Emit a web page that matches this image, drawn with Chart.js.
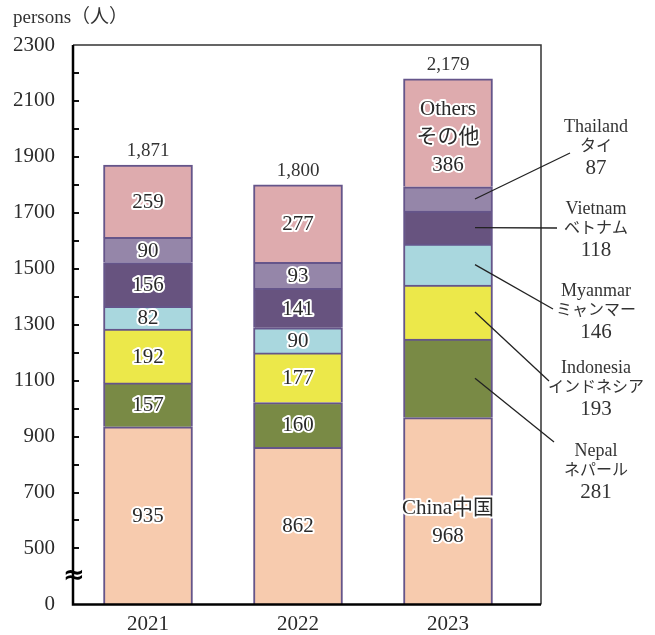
<!DOCTYPE html>
<html><head><meta charset="utf-8">
<script src="https://cdn.jsdelivr.net/npm/chart.js@4"></script>
<style>html,body{margin:0;padding:0;background:#fff}#wrap{width:655px;height:635px;position:relative}</style>
</head><body><div id="wrap"><canvas id="c" width="655" height="635"></canvas></div>
<script>
// ---- data ----
const years = ['2021', '2022', '2023'];
const china     = [935, 862, 968];
const nepal     = [157, 160, 281];
const indonesia = [192, 177, 193];
const myanmar   = [82, 90, 146];
const vietnam   = [156, 141, 118];
const thailand  = [90, 93, 87];
const others    = [259, 277, 386];
const totals    = [1871, 1800, 2179];
const namesEn = ['China', 'Nepal', 'Indonesia', 'Myanmar', 'Vietnam', 'Thailand', 'Others'];
const namesJa = ['中国', 'ネパール', 'インドネシア', 'ミャンマー', 'ベトナム', 'タイ', 'その他'];
const yAxisTitle = 'persons（人）';
const axisFloor = 300;      // value drawn at the "0" position (broken axis)
const axisBreakAt = 400;    // where the ≈ break sign sits

const seriesValues = [china, nepal, indonesia, myanmar, vietnam, thailand, others];
const colors = ['#F7CBAE', '#798A45', '#ECE84A', '#A9D7DE', '#67537F', '#9586A9', '#DEABAE'];

const FONT = "'Liberation Serif','Noto Sans CJK JP',serif";
const TXT = '#2a2a2a';

function haloText(ctx, s, x, y) {
  ctx.lineJoin = 'round';
  ctx.strokeStyle = '#fff';
  ctx.lineWidth = 4;
  ctx.strokeText(s, x, y);
  ctx.fillStyle = TXT;
  ctx.fillText(s, x, y);
}

// callout layout for the 2023 bar (label centre offsets from right edge of plot; leader-line ends)
const callouts = {
  5: {dx: 55, y: 127, ex: -26, ey: 26},
  4: {dx: 55, y: 209, ex: -39, ey: 19},
  3: {dx: 55, y: 291, ex: -43, ey: 18},
  2: {dx: 55, y: 368, ex: -47, ey: 13},
  1: {dx: 55, y: 451, ex: -42, ey: -9}
};

const decor = {
  id: 'decor',
  afterDatasetsDraw(chart) {
    const {ctx, chartArea: a, scales: {x, y}} = chart;
    ctx.save();
    // inward minor/major tick marks
    ctx.strokeStyle = '#111'; ctx.lineWidth = 2;
    y.ticks.forEach(t => {
      if (t.value > axisBreakAt && t.value < y.max) {
        const py = Math.round(y.getPixelForValue(t.value));
        ctx.beginPath(); ctx.moveTo(a.left, py); ctx.lineTo(a.left + 6, py); ctx.stroke();
      }
    });
    // frame
    ctx.strokeStyle = '#333'; ctx.lineWidth = 1.5;
    ctx.beginPath(); ctx.moveTo(a.left, a.top); ctx.lineTo(a.right, a.top); ctx.lineTo(a.right, a.bottom); ctx.stroke();
    ctx.strokeStyle = '#000'; ctx.lineWidth = 2.5;
    ctx.beginPath(); ctx.moveTo(a.left, a.top); ctx.lineTo(a.left, a.bottom); ctx.lineTo(a.right, a.bottom); ctx.stroke();
    // break mark
    ctx.fillStyle = '#000';
    ctx.font = "bold 26px 'DejaVu Sans'";
    ctx.textAlign = 'center'; ctx.textBaseline = 'middle';
    ctx.fillText('≈', a.left + 1, y.getPixelForValue(axisBreakAt));

    // segment labels
    seriesValues.forEach((vals, d) => {
      const meta = chart.getDatasetMeta(d);
      vals.forEach((v, j) => {
        const el = meta.data[j];
        const top = el.y, bot = Math.min(el.base, a.bottom);
        const mid = (top + bot) / 2;
        let lines = null, shift = 1;
        if (j < years.length - 1) lines = [String(v)];
        else if (d === 0) { lines = [namesEn[d] + namesJa[d], String(v)]; shift = 12; }
        else if (d === seriesValues.length - 1) { lines = [namesEn[d], namesJa[d], String(v)]; shift = 5; }
        if (lines) {
          ctx.font = '21px ' + FONT;
          const lh = 28;
          const y0 = mid - (lines.length - 1) * lh / 2;
          lines.forEach((s, k) => haloText(ctx, s, el.x, y0 + k * lh + shift));
        } else {
          // callout
          const c = callouts[d];
          const lx = a.right + c.dx;
          ctx.strokeStyle = '#222'; ctx.lineWidth = 1.3;
          ctx.beginPath(); ctx.moveTo(el.x + 27, mid); ctx.lineTo(lx + c.ex, c.y + c.ey); ctx.stroke();
          ctx.fillStyle = '#333';
          ctx.font = '18px ' + FONT;
          ctx.fillText(namesEn[d], lx, c.y);
          ctx.font = '16px ' + FONT;
          ctx.fillText(namesJa[d], lx, c.y + 20);
          ctx.font = '21px ' + FONT;
          ctx.fillText(String(v), lx, c.y + 41);
        }
      });
    });

    // totals
    ctx.font = '19px ' + FONT;
    ctx.fillStyle = '#333';
    const lastMeta = chart.getDatasetMeta(seriesValues.length - 1);
    totals.forEach((t, j) => {
      const el = lastMeta.data[j];
      ctx.fillText(t.toLocaleString('en-US'), el.x, y.getPixelForValue(t) - 14);
    });

    // axis title
    ctx.textAlign = 'left';
    ctx.font = '19px ' + FONT;
    ctx.fillText(yAxisTitle, 13, 18);
    ctx.restore();
  }
};

new Chart(document.getElementById('c'), {
  type: 'bar',
  data: {
    datasets: seriesValues.map((vals, d) => ({
      label: namesEn[d],
      data: vals.map((v, i) => ({x: i, y: v})),
      backgroundColor: colors[d],
      borderColor: '#65558A',
      borderWidth: 2,
      barThickness: 89
    }))
  },
  options: {
    responsive: false,
    animation: false,
    layout: {padding: {top: 45, right: 114, left: 0, bottom: 0}},
    plugins: {legend: {display: false}, tooltip: {enabled: false}},
    scales: {
      x: {
        type: 'linear', min: -0.5, max: 2.62, stacked: true, offset: false,
        grid: {display: false, drawTicks: false, offset: false}, border: {display: false},
        afterBuildTicks: s => { s.ticks = years.map((_, i) => ({value: i})); },
        ticks: {callback: v => years[v] ?? '', font: {family: FONT, size: 21}, color: TXT, padding: 7, autoSkip: false, maxRotation: 0},
        afterFit: s => { s.height = 26; }
      },
      y: {
        min: axisFloor, max: 2300, stacked: true,
        grid: {display: false, drawTicks: false}, border: {display: false},
        ticks: {
          stepSize: 100, autoSkip: false,
          callback: v => v === axisFloor ? '0' : (v % 200 === 100 ? String(v) : ''),
          font: {family: FONT, size: 21}, color: TXT, padding: 18
        },
        afterFit: s => { s.width = 73; }
      }
    }
  },
  plugins: [decor]
});
</script>
</body></html>
